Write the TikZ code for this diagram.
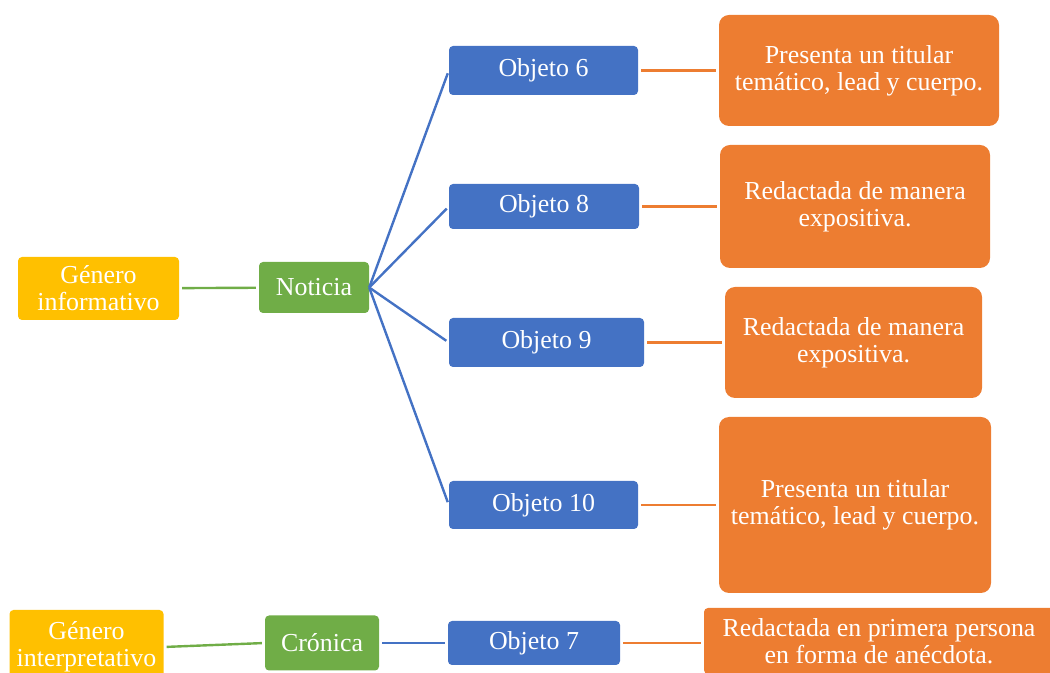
\documentclass[tikz,border=0pt]{standalone}
\usepackage{fontspec}
\setmainfont{Liberation Serif}
\definecolor{amarillo}{HTML}{FFC000}
\definecolor{verde}{HTML}{70AD47}
\definecolor{azul}{HTML}{4472C4}
\definecolor{naranja}{HTML}{ED7D31}
\begin{document}
\begin{tikzpicture}[
  caja/.style={rectangle,inner sep=0pt,align=center,text=white,
    font=\fontsize{26}{27}\selectfont,rounded corners=4bp},
  genero/.style={caja,fill=amarillo},
  tipo/.style={caja,fill=verde},
  objeto/.style={caja,fill=azul},
  rasgo/.style={caja,fill=naranja,rounded corners=10bp},
  enlace/.style={line width=2.4bp,shorten <=3bp,shorten >=3bp}]
  \clip (0bp,0bp) rectangle (1050bp,673bp);
  \node (GenInf) at (98.5bp,384.5bp) [genero,minimum width=161bp,minimum height=63bp] {Género\\informativo};
  \node (Noticia) at (314.0bp,385.5bp) [tipo,minimum width=110bp,minimum height=51bp] {Noticia};
  \node (Obj6) at (543.5bp,602.5bp) [objeto,minimum width=189bp,minimum height=49bp] {Objeto 6};
  \node (Obj8) at (544.0bp,466.5bp) [objeto,minimum width=190bp,minimum height=45bp] {Objeto 8};
  \node (Obj9) at (546.5bp,330.5bp) [objeto,minimum width=195bp,minimum height=49bp] {Objeto 9};
  \node (Obj10) at (543.5bp,168.0bp) [objeto,minimum width=189bp,minimum height=48bp] {Objeto 10};
  \node (Rasgo6) at (859.0bp,602.5bp) [rasgo,minimum width=280bp,minimum height=111bp] {Presenta un titular\\temático, lead y cuerpo.};
  \node (Rasgo8) at (855.0bp,466.5bp) [rasgo,minimum width=270bp,minimum height=123bp] {Redactada de manera\\expositiva.};
  \node (Rasgo9) at (853.5bp,330.5bp) [rasgo,minimum width=257bp,minimum height=111bp] {Redactada de manera\\expositiva.};
  \node (Rasgo10) at (855.0bp,168.0bp) [rasgo,minimum width=272bp,minimum height=176bp] {Presenta un titular\\temático, lead y cuerpo.};
  \node (GenInt) at (86.5bp,26.0bp) [genero,minimum width=154bp,minimum height=74bp] {Género\\interpretativo};
  \node (Cronica) at (322.0bp,30.0bp) [tipo,minimum width=114bp,minimum height=55bp] {Crónica};
  \node (Obj7) at (534.0bp,30.0bp) [objeto,minimum width=172bp,minimum height=44bp] {Objeto 7};
  \node (Rasgo7) at (879.0bp,32.0bp) [rasgo,rounded corners=4bp,minimum width=350bp,minimum height=66bp] {Redactada en primera persona\\en forma de anécdota.};
  \draw [enlace,verde] (GenInf) -- (Noticia);
  \draw [enlace,azul,shorten <=0bp] (Noticia.east) -- (Obj6.west);
  \draw [enlace,azul,shorten <=0bp] (Noticia.east) -- (Obj8.west);
  \draw [enlace,azul,shorten <=0bp] (Noticia.east) -- (Obj9.west);
  \draw [enlace,azul,shorten <=0bp] (Noticia.east) -- (Obj10.west);
  \draw [enlace,naranja] (Obj6) -- (Rasgo6);
  \draw [enlace,naranja] (Obj8) -- (Rasgo8);
  \draw [enlace,naranja] (Obj9) -- (Rasgo9);
  \draw [enlace,naranja] (Obj10) -- (Rasgo10);
  \draw [enlace,verde] (GenInt.east) -- (Cronica.west);
  \draw [enlace,azul] (Cronica) -- (Obj7);
  \draw [enlace,naranja] (Obj7.east) -- (Obj7.east -| Rasgo7.west);
\end{tikzpicture}
\end{document}
